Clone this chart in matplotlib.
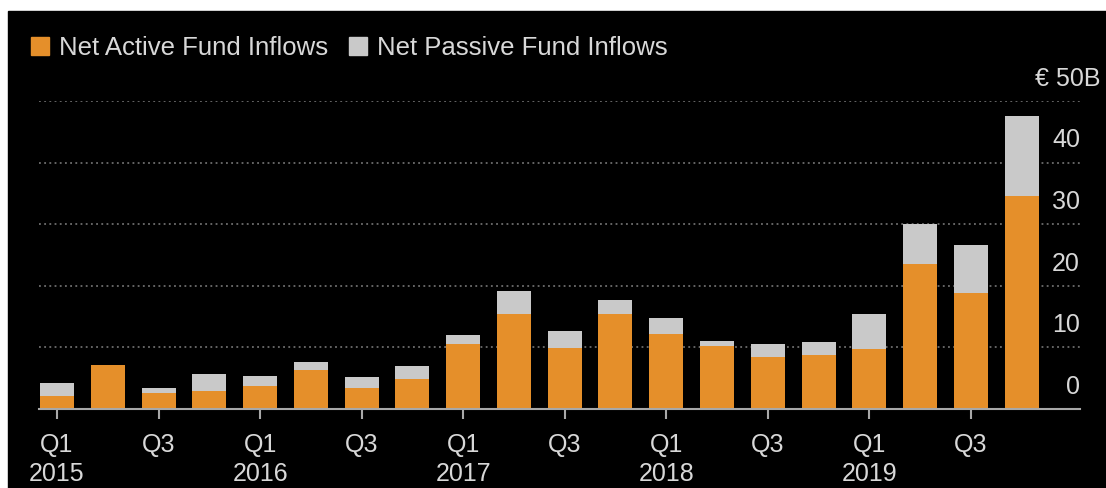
import matplotlib.pyplot as plt
from matplotlib.patches import Rectangle
from matplotlib.transforms import offset_copy

# Quarterly European fund flows, EUR billions
quarters = ["Q1", "Q2", "Q3", "Q4"] * 5
years = [2015, 2016, 2017, 2018, 2019]
active = [2.1, 7.2, 2.6, 2.9, 3.7, 6.3, 3.4, 4.9, 10.6, 15.5,
          9.9, 15.4, 12.2, 10.2, 8.4, 8.8, 9.8, 23.5, 18.9, 34.5]
passive = [2.2, 0.0, 0.8, 2.8, 1.7, 1.4, 1.8, 2.0, 1.4, 3.6,
           2.7, 2.3, 2.6, 0.9, 2.2, 2.1, 5.6, 6.6, 7.8, 13.0]
y_ticks = [0, 10, 20, 30, 40, 50]

orange = "#E58F2A"
grey = "#C9C9C9"
text_col = "#D8D8D8"

plt.rcParams["font.family"] = ["Liberation Sans", "DejaVu Sans"]

fig = plt.figure(figsize=(11.06, 4.88), dpi=100)
fig.patch.set_facecolor("white")
# black panel, with a thin white strip on the top and left
fig.patches.append(Rectangle((8 / 1106, 0), 1, (488 - 11) / 488,
                             transform=fig.transFigure, color="black", zorder=-10))

ax = fig.add_axes([39 / 1106, 79 / 488, 1041 / 1106, 308 / 488])
ax.set_facecolor("black")
ax.patch.set_alpha(0)

x = list(range(len(active)))
ax.bar(x, active, width=0.67, color=orange, zorder=2)
ax.bar(x, passive, bottom=active, width=0.67, color=grey, zorder=2)

ax.set_xlim(-0.355, 20.15)
ax.set_ylim(0, 50)

for s in ["top", "right", "left"]:
    ax.spines[s].set_visible(False)
ax.spines["bottom"].set_color("#A8A8A8")
ax.spines["bottom"].set_linewidth(1.5)
ax.spines["bottom"].set_zorder(3)

for v in y_ticks[1:]:
    ax.axhline(v, color="#808080", lw=1.1, dashes=(1.2, 2.2), zorder=1)

# value labels sit just above their grid lines, on the right
ax.set_yticks([])
lab_tr = offset_copy(ax.get_yaxis_transform(), fig=fig, x=0, y=11, units="points")
for v in y_ticks:
    lab = "€ 50B" if v == 50 else str(v)
    xpos = 1.02 if v == 50 else 1.0
    ax.text(xpos, v, lab, transform=lab_tr, ha="right", va="baseline",
            fontsize=18, color=text_col)

tick_pos = x[::2]
tick_lab = []
for i in tick_pos:
    lab = quarters[i]
    if lab == "Q1":
        lab += "\n" + str(years[i // 4])
    tick_lab.append(lab)
ax.set_xticks(tick_pos)
ax.set_xticklabels(tick_lab, fontsize=18, color=text_col, linespacing=1.3,
                   va="top")
ax.tick_params(axis="x", length=7, width=1.5, color="#A8A8A8", pad=10)

handles = [Rectangle((0, 0), 1, 1, color=orange), Rectangle((0, 0), 1, 1, color=grey)]
fig.legend(handles, ["Net Active Fund Inflows", "Net Passive Fund Inflows"],
           loc="upper left", bbox_to_anchor=(0.028, 0.926), ncol=2,
           frameon=False, fontsize=18.5, labelcolor=text_col,
           handlelength=0.7, handleheight=0.7, handletextpad=0.4,
           columnspacing=0.8, borderpad=0, borderaxespad=0)

fig.savefig("out.png", dpi=100, facecolor=fig.get_facecolor())
